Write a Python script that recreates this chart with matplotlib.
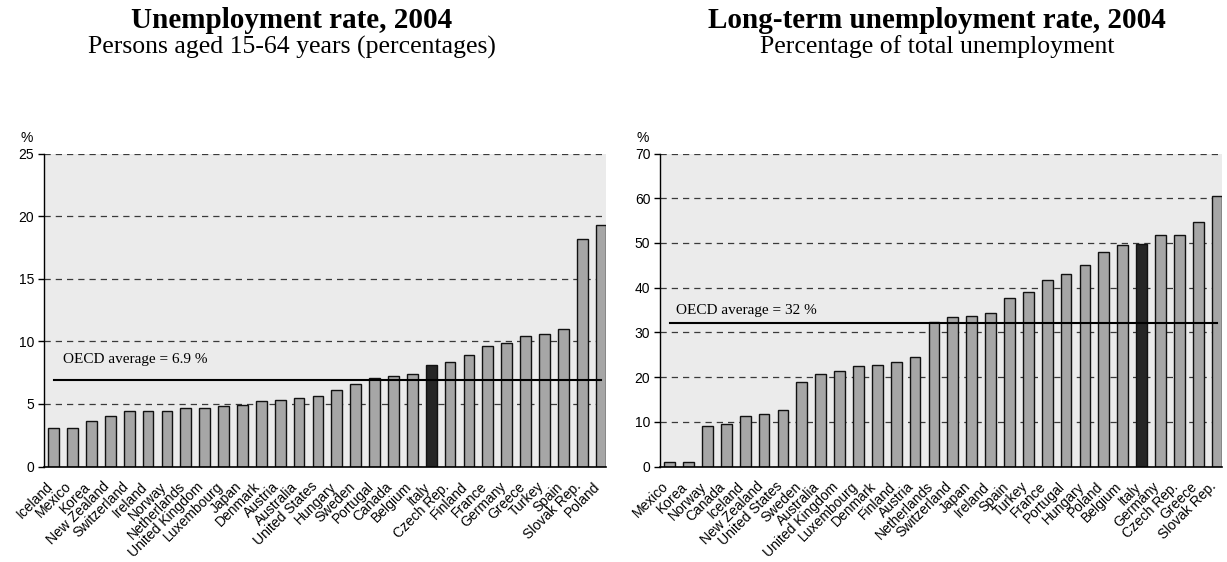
import numpy as np
import matplotlib
matplotlib.use("Agg")
from matplotlib import pyplot as plt
from matplotlib.transforms import ScaledTranslation

# Data
countries_unemp = ['Iceland', 'Mexico', 'Korea', 'New Zealand', 'Switzerland', 'Ireland',
                   'Norway', 'Netherlands', 'United Kingdom', 'Luxembourg', 'Japan', 'Denmark',
                   'Austria', 'Australia', 'United States', 'Hungary', 'Sweden', 'Portugal',
                   'Canada', 'Belgium', 'Italy', 'Czech Rep.', 'Finland', 'France', 'Germany',
                   'Greece', 'Turkey', 'Spain', 'Slovak Rep.', 'Poland']
unemp_rate = [3.1, 3.1, 3.6, 4.0, 4.4, 4.45, 4.45, 4.7, 4.7, 4.8, 4.9, 5.25,
              5.3, 5.5, 5.6, 6.1, 6.6, 7.05, 7.2, 7.4, 8.1, 8.35, 8.9, 9.6, 9.9,
              10.4, 10.6, 11.0, 18.2, 19.3]
oecd_unemp = 6.9

countries_lt = ['Mexico', 'Korea', 'Norway', 'Canada', 'Iceland', 'New Zealand',
                'United States', 'Sweden', 'Australia', 'United Kingdom', 'Luxembourg',
                'Denmark', 'Finland', 'Austria', 'Netherlands', 'Switzerland', 'Japan',
                'Ireland', 'Spain', 'Turkey', 'France', 'Portugal', 'Hungary', 'Poland',
                'Belgium', 'Italy', 'Germany', 'Czech Rep.', 'Greece', 'Slovak Rep.']
lt_rate = [1.05, 1.05, 9.1, 9.5, 11.2, 11.7, 12.7, 18.9, 20.7, 21.3, 22.5,
           22.6, 23.4, 24.5, 32.4, 33.5, 33.7, 34.3, 37.7, 39.1, 41.6, 43.1,
           45.1, 47.9, 49.6, 49.8, 51.8, 51.8, 54.7, 60.5]
oecd_lt = 32

highlight = 'Italy'

serif = 'Liberation Serif'
sans = 'Liberation Sans'
plt.rcParams['font.family'] = sans

fig = plt.figure(figsize=(12.27, 5.62), dpi=100)

W, H = 1227, 562
ax_l = fig.add_axes([44 / W, 1 - 466.5 / H, 562 / W, 313 / H])
ax_r = fig.add_axes([660 / W, 1 - 466.5 / H, 562 / W, 313 / H])


def draw_panel(ax, names, vals, avg, ymax, step, avg_txt, txt_x, txt_y):
    x = np.arange(len(names))
    colors = ['#262626' if n == highlight else '#a6a6a6' for n in names]
    ax.bar(x, vals, width=0.57, color=colors, edgecolor='#111111', linewidth=1.0, zorder=2)
    ax.plot([0, len(names) - 1], [avg, avg], color='black', linewidth=1.5, zorder=3)
    ax.text(txt_x, txt_y, avg_txt, family=serif, fontsize=11, va='baseline', zorder=4)

    ax.set_facecolor('#ebebeb')
    ax.set_xlim(-0.51, len(names) - 0.74)
    ax.set_ylim(0, ymax)
    ax.set_yticks(np.arange(0, ymax + 1, step))
    ax.set_axisbelow(True)
    ax.yaxis.grid(True, color='#3a3a3a', linestyle=(0, (5, 4)), linewidth=0.9)
    for s in ['top', 'right']:
        ax.spines[s].set_visible(False)
    ax.spines['left'].set_linewidth(1.0)
    ax.spines['bottom'].set_linewidth(1.2)
    ax.tick_params(axis='y', length=4, width=1.0, pad=3, labelsize=10)
    ax.tick_params(axis='x', length=0, pad=0)

    ax.set_xticks(x)
    ax.set_xticklabels(names, rotation=45, ha='right', rotation_mode='anchor', fontsize=10)
    # push the rotated labels down-left like in the original
    shift = ScaledTranslation(-0.08, -0.13, fig.dpi_scale_trans)
    for lab in ax.get_xticklabels():
        lab.set_transform(lab.get_transform() + shift)

    ax.text(-0.03, 1.05, '%', transform=ax.transAxes, fontsize=10, ha='center', va='center')


draw_panel(ax_l, countries_unemp, unemp_rate, oecd_unemp, 25, 5,
           'OECD average = 6.9 %', 0.5, 8.3)
draw_panel(ax_r, countries_lt, lt_rate, oecd_lt, 70, 10,
           'OECD average = 32 %', 0.35, 34.1)

# Titles
fig.text(292 / W, 1 - 28.3 / H, 'Unemployment rate, 2004', family=serif, fontsize=21,
         fontweight='bold', ha='center', va='baseline')
fig.text(292 / W, 1 - 53.3 / H, 'Persons aged 15-64 years (percentages)', family=serif,
         fontsize=18.5, ha='center', va='baseline')
fig.text(937 / W, 1 - 28.3 / H, 'Long-term unemployment rate, 2004', family=serif, fontsize=21,
         fontweight='bold', ha='center', va='baseline')
fig.text(937 / W, 1 - 53.3 / H, 'Percentage of total unemployment', family=serif,
         fontsize=18.5, ha='center', va='baseline')

fig.savefig('out.png', dpi=100)
